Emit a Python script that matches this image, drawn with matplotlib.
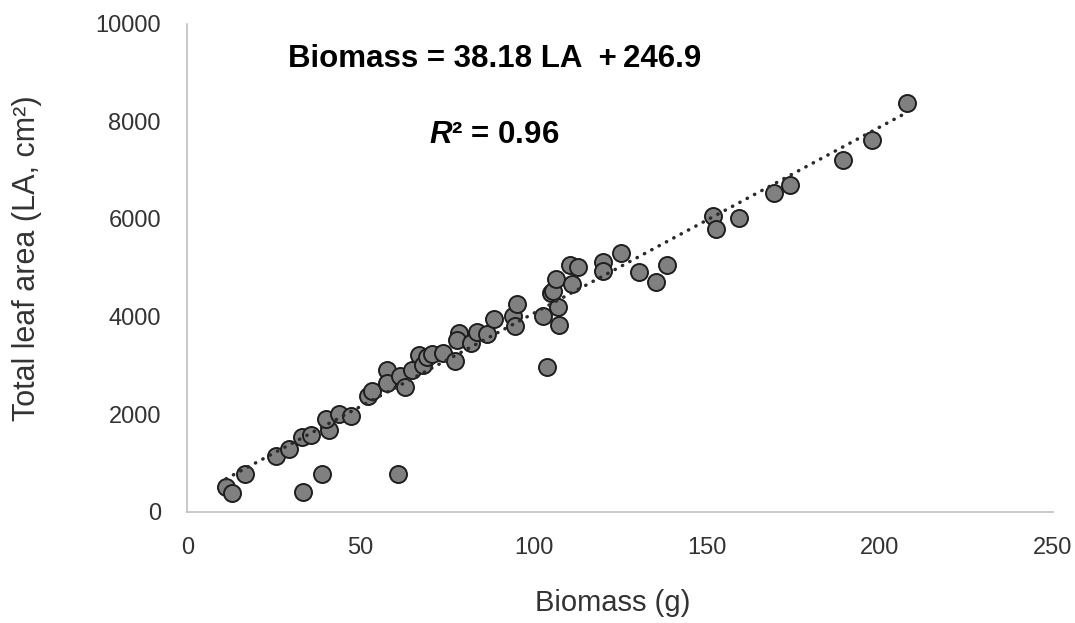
import matplotlib
matplotlib.use("Agg")
import matplotlib.pyplot as plt
import numpy as np

plt.rcParams['font.family'] = ['Liberation Sans', 'DejaVu Sans']
plt.rcParams['mathtext.fontset'] = 'custom'
plt.rcParams['mathtext.rm'] = 'Liberation Sans:bold'
plt.rcParams['mathtext.it'] = 'Liberation Sans:italic:bold'
plt.rcParams['mathtext.bf'] = 'Liberation Sans:bold'

# Data
biomass_g = [11.2, 13.0, 16.7, 33.5, 38.8, 60.8, 25.6, 29.3, 33.0, 35.6,
             41.0, 40.1, 43.9, 47.3, 52.1, 53.3, 57.6, 57.6, 61.4, 63.0,
             64.9, 66.9, 68.1, 69.3, 70.7, 73.9, 77.2, 78.5, 78.0, 81.8,
             83.6, 86.5, 88.6, 94.1, 94.6, 95.1, 102.6, 103.8, 107.4, 107.0,
             104.9, 105.5, 106.5, 111.0, 110.5, 112.9, 120.1, 120.1, 125.2, 130.5,
             135.3, 138.4, 151.9, 152.7, 159.4, 169.4, 174.0, 189.3, 197.7, 207.7]
leaf_area = [512, 389, 773, 398, 779, 779, 1148, 1291, 1525, 1572,
             1674, 1900, 2002, 1961, 2371, 2480, 2904, 2631, 2781, 2549,
             2904, 3205, 3006, 3164, 3232, 3246, 3094, 3656, 3518, 3451,
             3689, 3641, 3943, 4010, 3805, 4256, 4010, 2971, 3826, 4189,
             4488, 4530, 4762, 4660, 5055, 5020, 5123, 4939, 5295, 4918,
             4713, 5055, 6066, 5793, 6025, 6537, 6689, 7207, 7617, 8369]

# Trend line coefficients as printed on the chart
slope = 38.18
intercept = 246.9

x_ticks = [0, 50, 100, 150, 200, 250]
y_ticks = [0, 2000, 4000, 6000, 8000, 10000]

W, H = 1075, 623
fig = plt.figure(figsize=(W / 100, H / 100), dpi=100)
ax = fig.add_axes([187.3 / W, 1 - 511.7 / H, (1053 - 187.3) / W, (511.7 - 23.7) / H])

ax.scatter(biomass_g, leaf_area, s=150, facecolor='#808080', edgecolor='#1e1e1e',
           linewidths=1.4, zorder=3)

xs = np.array([min(biomass_g), max(biomass_g)])
ax.plot(xs, slope * xs + intercept, color='#2a2a2a', linewidth=2.5,
        linestyle=(0, (0.1, 2.3)), dash_capstyle='round', zorder=4)

ax.set_xlim(0, 250)
ax.set_ylim(0, 10000)
ax.set_xticks(x_ticks)
ax.set_yticks(y_ticks)
ax.set_xticklabels([str(v) for v in x_ticks])
ax.set_yticklabels([str(v) for v in y_ticks])
ax.tick_params(axis='both', length=0, labelsize=17, colors='#333333')
ax.tick_params(axis='x', pad=18)
ax.tick_params(axis='y', pad=19)

for side in ['top', 'right']:
    ax.spines[side].set_visible(False)
for side in ['left', 'bottom']:
    ax.spines[side].set_color('#c0c0c0')
    ax.spines[side].set_linewidth(1.2)

fig.text(612.5 / W, 1 - 603 / H, 'Biomass (g)', ha='center', va='center',
         fontsize=21, color='#333333')
fig.text(27 / W, 1 - 258 / H, 'Total leaf area (LA, cm\u00b2)',
         ha='center', va='center', rotation=90, fontsize=22, color='#333333')

fig.text(288 / W, 1 - 67 / H, f'Biomass = {slope} LA  +\u2009{intercept}',
         ha='left', va='baseline', fontsize=22.5, fontweight='bold', color='black')
fig.text(429 / W, 1 - 143 / H, r'$\mathit{R}$' + '\u00b2 = 0.96',
         ha='left', va='baseline', fontsize=22.5, fontweight='bold', color='black')

fig.savefig('out.png', dpi=100)
